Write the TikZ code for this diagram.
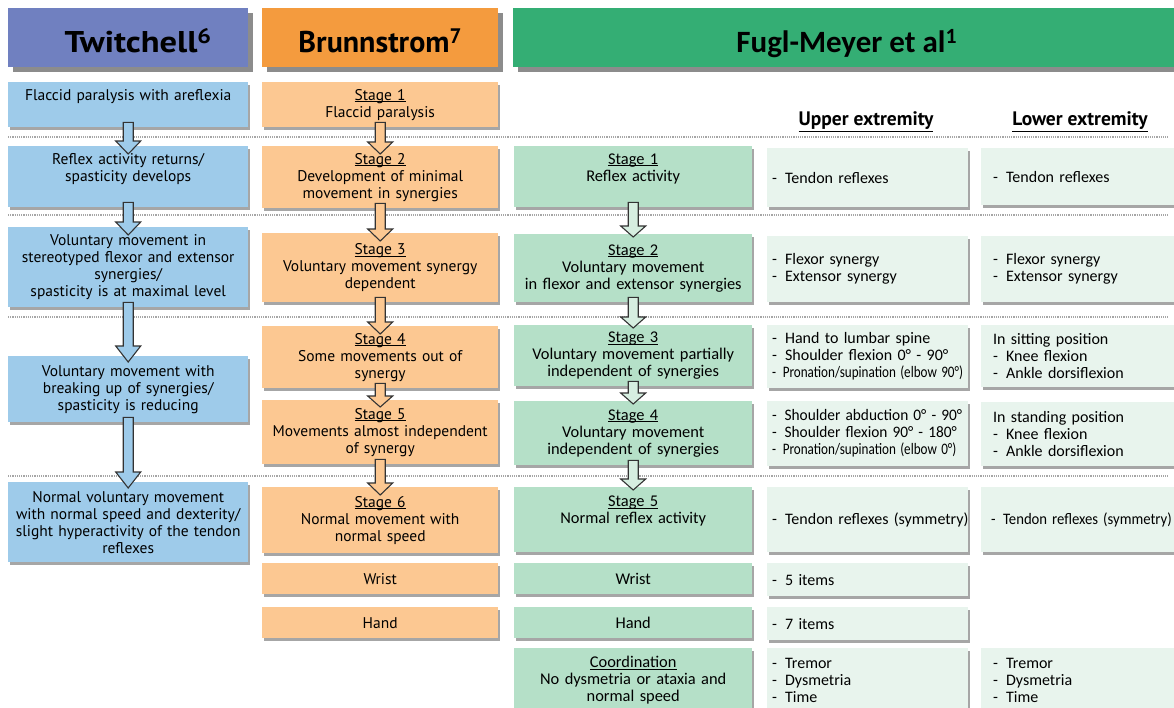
\documentclass[tikz,border=0pt]{standalone}
\usepackage{fontspec}
\setmainfont{PT Sans}
\newfontfamily\narrowfont{Carlito}
\usepackage{graphicx}
\usepackage{tikz}
\usetikzlibrary{calc,shadows}

\definecolor{twhead}{RGB}{112,128,192}
\definecolor{brhead}{RGB}{244,155,62}
\definecolor{fmhead}{RGB}{52,174,116}
\definecolor{twfill}{RGB}{158,203,234}
\definecolor{brfill}{RGB}{252,200,146}
\definecolor{fmfill}{RGB}{181,224,200}
\definecolor{exfill}{RGB}{232,244,237}
\definecolor{fmarrow}{RGB}{214,238,224}
\definecolor{headshade}{RGB}{140,140,140}

% list item in the two extremity columns
\newcommand{\itm}[1]{\mbox{-\enspace#1}}
% underlined stage title, rule close to the baseline
\newcommand{\stg}[1]{\underline{\raisebox{0pt}[\height][0pt]{#1}}}

% hollow block arrow: fill, from, to, head length, tip inset
\newcommand{\blockarr}[5]{%
  \draw[blockline, fill=#1] let \p1=(#2.south), \p2=(#3.north) in
    (\x1-5pt,\y1+5pt) -- (\x1-5pt,\y2-#5pt+#4pt) -- (\x1-12.5pt,\y2-#5pt+#4pt)
    -- (\x1,\y2-#5pt) -- (\x1+12.5pt,\y2-#5pt+#4pt) -- (\x1+5pt,\y2-#5pt+#4pt)
    -- (\x1+5pt,\y1+5pt) -- cycle;}

\begin{document}
\begin{tikzpicture}[x=1pt, y=-1pt,
  every node/.style={inner sep=0pt},
  head/.style={anchor=north west, minimum height=59pt, text height=29pt, text depth=0pt,
    font=\fontsize{30}{32}\selectfont\bfseries,
    drop shadow={shadow xshift=5pt, shadow yshift=-5pt, fill=headshade, opacity=1}},
  box/.style={anchor=north west, align=center, font=\fontsize{15.5}{17}\selectfont,
    drop shadow={shadow xshift=2pt, shadow yshift=-2.5pt, fill=black!35, opacity=1}},
  twbox/.style={box, fill=twfill, text width=240pt},
  brbox/.style={box, fill=brfill, text width=236pt},
  fmbox/.style={box, fill=fmfill, text width=238pt,
    font=\narrowfont\fontsize{16.4}{17}\selectfont},
  upbox/.style={box, fill=exfill, text width=191pt, inner xsep=5pt, align=left,
    font=\narrowfont\fontsize{16}{17}\selectfont},
  lobox/.style={box, fill=exfill, text width=187pt, inner xsep=12pt, align=left,
    font=\narrowfont\fontsize{16}{17}\selectfont},
  colhead/.style={font=\fontsize{19.5}{21}\selectfont\bfseries},
  sepline/.style={gray!70, densely dotted, line width=1.2pt},
  blockline/.style={line width=1.1pt, draw=black!80}]

\useasboundingbox (0,0) rectangle (1174,707);
\clip (0,0) rectangle (1174,707);

\foreach \y in {137,215,317,476}
  \draw[sepline] (8,\y) -- (1168,\y);

% headers
\node[head, fill=twhead, minimum width=240pt] (twtitle) at (8,8)
  {\hspace*{20pt}\scalebox{1.15}[1]{Twitchell\textsuperscript{6}}};
\node[head, fill=brhead, minimum width=236pt] (brtitle) at (262,8) {Brunnstrom\textsuperscript{7}};
\node[head, fill=fmhead, minimum width=667pt, font=\narrowfont\fontsize{31}{32}\selectfont\bfseries]
  (fmtitle) at (513,8) {Fugl-Meyer et al\textsuperscript{1}};

\node[colhead] (upper) at (866,122) {\underline{Upper extremity}};
\node[colhead] (lower) at (1080,122) {\underline{Lower extremity}};

% Twitchell
\node[twbox, minimum height=45pt, text depth=19pt] (tw1) at (8,82) {Flaccid paralysis with areflexia};
\node[twbox, minimum height=61pt, text depth=35pt] (tw2) at (8,146) {Reflex activity returns/\\spasticity develops};
\node[twbox, minimum height=80pt] (tw3) at (8,227) {Voluntary movement in\\stereotyped flexor and extensor\\synergies/\\spasticity is at maximal level};
\node[twbox, minimum height=66pt] (tw4) at (8,356) {Voluntary movement with\\breaking up of synergies/\\spasticity is reducing};
\node[twbox, minimum height=80pt] (tw5) at (8,482) {Normal voluntary movement\\with normal speed and dexterity/\\slight hyperactivity of the tendon\\reflexes};

% Brunnstrom
\node[brbox, minimum height=45pt] (br1) at (262,82) {\stg{Stage 1}\\Flaccid paralysis};
\node[brbox, minimum height=62pt] (br2) at (262,146) {\stg{Stage 2}\\Development of minimal\\movement in synergies};
\node[brbox, minimum height=69pt] (br3) at (262,233) {\stg{Stage 3}\\Voluntary movement synergy\\dependent};
\node[brbox, minimum height=62pt] (br4) at (262,326) {\stg{Stage 4}\\Some movements out of\\synergy};
\node[brbox, minimum height=64pt] (br5) at (262,400) {\stg{Stage 5}\\Movements almost independent\\of synergy};
\node[brbox, minimum height=66pt] (br6) at (262,487) {\stg{Stage 6}\\Normal movement with\\normal speed};
\node[brbox, minimum height=31pt] (br7) at (262,563) {Wrist};
\node[brbox, minimum height=31pt] (br8) at (262,607) {Hand};

% Fugl-Meyer stages
\node[fmbox, minimum height=61pt, text depth=36pt] (fm1) at (514,146) {\stg{Stage 1}\\Reflex activity};
\node[fmbox, minimum height=68pt] (fm2) at (514,234) {\stg{Stage 2}\\Voluntary movement\\in flexor and extensor synergies};
\node[fmbox, minimum height=61pt] (fm3) at (514,325) {\stg{Stage 3}\\Voluntary movement partially\\independent of synergies};
\node[fmbox, minimum height=64pt] (fm4) at (514,401) {\stg{Stage 4}\\Voluntary movement\\independent of synergies};
\node[fmbox, minimum height=65pt, text depth=37pt] (fm5) at (514,487) {\stg{Stage 5}\\Normal reflex activity};
\node[fmbox, minimum height=31pt] (fm6) at (514,563) {Wrist};
\node[fmbox, minimum height=31pt] (fm7) at (514,607) {Hand};
\node[fmbox, minimum height=64pt] (fm8) at (514,648) {\stg{Coordination}\\No dysmetria or ataxia and\\normal speed};

% upper extremity
\node[upbox, minimum height=59pt] (up1) at (767,148) {\itm{Tendon reflexes}};
\node[upbox, minimum height=66pt] (up2) at (767,236) {\itm{Flexor synergy}\\\itm{Extensor synergy}};
\node[upbox, minimum height=63pt] (up3) at (767,325) {\itm{Hand to lumbar spine}\\\itm{Shoulder flexion 0° - 90°}\\\scalebox{0.82}[1]{\itm{Pronation/supination (elbow 90°)}}};
\node[upbox, minimum height=65pt] (up4) at (767,401) {\scalebox{0.96}[1]{\itm{Shoulder abduction 0° - 90°}}\\\scalebox{0.96}[1]{\itm{Shoulder flexion 90° - 180°}}\\\scalebox{0.82}[1]{\itm{Pronation/supination (elbow 0°)}}};
\node[upbox, minimum height=65pt] (up5) at (767,487) {\itm{Tendon reflexes (symmetry)}};
\node[upbox, minimum height=33pt] (up6) at (767,563) {\itm{5 items}};
\node[upbox, minimum height=33pt] (up7) at (767,607) {\itm{7 items}};
\node[upbox, minimum height=64pt] (up8) at (767,648) {\itm{Tremor}\\\itm{Dysmetria}\\\itm{Time}};

% lower extremity
\node[lobox, minimum height=57pt] (lo1) at (981,148) {\itm{Tendon reflexes}};
\node[lobox, minimum height=66pt] (lo2) at (981,236) {\itm{Flexor synergy}\\\itm{Extensor synergy}};
\node[lobox, minimum height=62pt] (lo3) at (981,325) {In sitting position\\\itm{Knee flexion}\\\itm{Ankle dorsiflexion}};
\node[lobox, minimum height=64pt] (lo4) at (981,402) {In standing position\\\itm{Knee flexion}\\\itm{Ankle dorsiflexion}};
\node[lobox, minimum height=65pt, inner xsep=10pt] (lo5) at (981,487) {\scalebox{0.92}[1]{\itm{Tendon reflexes (symmetry)}}};
\node[lobox, minimum height=64pt] (lo8) at (981,648) {\itm{Tremor}\\\itm{Dysmetria}\\\itm{Time}};

% arrows
\blockarr{twfill}{tw1}{tw2}{13}{8}
\blockarr{twfill}{tw2}{tw3}{13}{8}
\blockarr{twfill}{tw3}{tw4}{16}{6}
\blockarr{twfill}{tw4}{tw5}{16}{6}
\blockarr{brfill}{br1}{br2}{12}{8}
\blockarr{brfill}{br2}{br3}{12}{8}
\blockarr{brfill}{br3}{br4}{12}{8}
\blockarr{brfill}{br4}{br5}{11}{7}
\blockarr{brfill}{br5}{br6}{12}{8}
\blockarr{fmarrow}{fm1}{fm2}{11}{3}
\blockarr{fmarrow}{fm2}{fm3}{11}{3}
\blockarr{fmarrow}{fm3}{fm4}{11}{3}
\blockarr{fmarrow}{fm4}{fm5}{11}{3}

\end{tikzpicture}
\end{document}
